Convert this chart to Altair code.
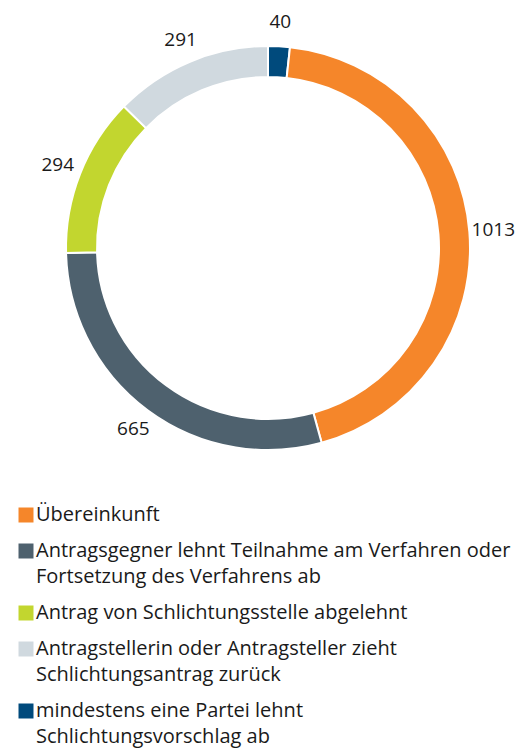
import altair as alt
import pandas as pd

# Data (arc order clockwise from top)
categories = [
    "mindestens eine Partei lehnt Schlichtungsvorschlag ab",
    "Übereinkunft",
    "Antragsgegner lehnt Teilnahme am Verfahren oder Fortsetzung des Verfahrens ab",
    "Antrag von Schlichtungsstelle abgelehnt",
    "Antragstellerin oder Antragsteller zieht Schlichtungsantrag zurück",
]
values = [40, 1013, 665, 294, 291]
arc_order = [0, 1, 2, 3, 4]

# Legend order and wrapped legend lines
legend_order = [
    "Übereinkunft",
    "Antragsgegner lehnt Teilnahme am Verfahren oder Fortsetzung des Verfahrens ab",
    "Antrag von Schlichtungsstelle abgelehnt",
    "Antragstellerin oder Antragsteller zieht Schlichtungsantrag zurück",
    "mindestens eine Partei lehnt Schlichtungsvorschlag ab",
]
legend_lines = [
    ["Übereinkunft"],
    ["Antragsgegner lehnt Teilnahme am Verfahren oder", "Fortsetzung des Verfahrens ab"],
    ["Antrag von Schlichtungsstelle abgelehnt"],
    ["Antragstellerin oder Antragsteller zieht", "Schlichtungsantrag zurück"],
    ["mindestens eine Partei lehnt", "Schlichtungsvorschlag ab"],
]
colors = ["#F5862A", "#4E616E", "#C2D62F", "#D0D9DF", "#004A7C"]

df = pd.DataFrame({"Kategorie": categories, "Wert": values, "Ordnung": arc_order})

def q(s):
    return "'" + s.replace("'", "\\'") + "'"

expr = ""
for cat, lines in zip(legend_order, legend_lines):
    expr += f"datum.label == {q(cat)} ? [{', '.join(q(l) for l in lines)}] : "
expr += "datum.label"

FONT = "Open Sans"
CX, CY = 260, 240

base = alt.Chart(df).encode(
    theta=alt.Theta("Wert:Q", stack=True),
    order=alt.Order("Ordnung:Q", sort="ascending"),
    x=alt.value(CX),
    y=alt.value(CY),
)

arcs = base.mark_arc(outerRadius=202, innerRadius=171, stroke="white", strokeWidth=2).encode(
    color=alt.Color(
        "Kategorie:N",
        scale=alt.Scale(domain=legend_order, range=colors),
        legend=alt.Legend(
            title=None,
            orient="none",
            legendX=8,
            legendY=497,
            direction="vertical",
            symbolType="square",
            symbolSize=225,
            symbolStrokeWidth=0,
            symbolOpacity=1,
            labelFont=FONT,
            labelFontSize=20,
            labelColor="#1a1a1a",
            labelLimit=0,
            labelOffset=0,
            rowPadding=16,
            labelExpr=expr,
        ),
    )
)

labels = base.mark_text(radius=226, font=FONT, fontSize=19, color="#1a1a1a").encode(
    text=alt.Text("Wert:Q")
)

chart = (
    alt.layer(arcs, labels)
    .properties(
        width=511,
        height=480,
        padding={"left": 0, "top": 0, "right": 0, "bottom": 4},
    )
    .configure(
        style={"guide-label": {"lineHeight": 26}},
        view=alt.ViewConfig(strokeWidth=0, stroke="transparent"),
    )
)

chart.save("out.html", embed_options={"renderer": "svg", "actions": False})
